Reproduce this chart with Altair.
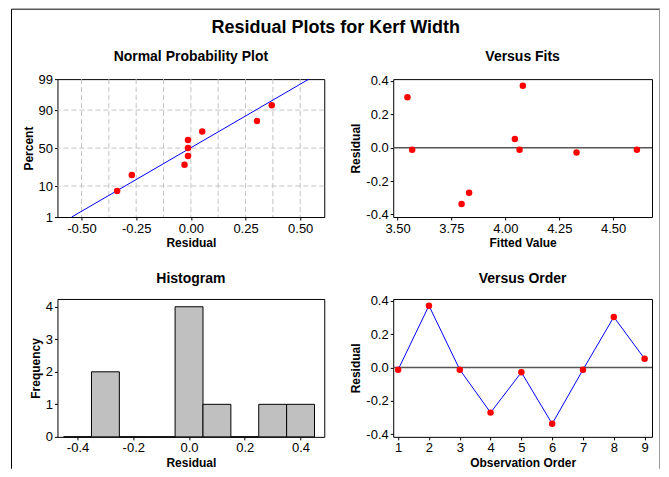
import altair as alt
import pandas as pd
from statistics import NormalDist

# ---- data ----
order = [1, 2, 3, 4, 5, 6, 7, 8, 9]
residuals = [-0.013, 0.370, -0.013, -0.270, -0.029, -0.337, -0.013, 0.302, 0.052]
fits = [3.568, 4.081, 4.066, 3.832, 4.330, 3.797, 4.610, 3.546, 4.044]

# normal probability plot (percent of each sorted residual)
npp_percent = [7.4, 18.1, 28.7, 39.4, 50.0, 60.6, 71.3, 81.9, 92.6]
fit_line_resid = [-0.545, 0.54]
fit_line_percent = [1, 99]
npp_tick_percent = [1, 10, 50, 90, 99]
npp_grid_percent = [10, 50, 90]
npp_grid_resid = [-0.5, -0.375, -0.25, -0.125, 0.0, 0.125, 0.25, 0.375, 0.5]

# histogram
hist_centers = [-0.4, -0.3, -0.2, -0.1, 0.0, 0.1, 0.2, 0.3, 0.4]
hist_counts = [0, 2, 0, 0, 4, 1, 0, 1, 1]
bin_width = 0.1

FONT = "Liberation Sans"
RED = "#ff0000"
BLUE = "#0000ff"

nd = NormalDist()
zmin, zmax = nd.inv_cdf(0.01), nd.inv_cdf(0.99)

def neg_fmt(fmt):
    return "(datum.value < 0 ? '-' : '') + format(abs(datum.value), '%s')" % fmt

def sub_title(text, off):
    return alt.TitleParams(text=text, font=FONT, fontSize=14, fontWeight="bold",
                           anchor="middle", frame="group", offset=off, color="black")

one = pd.DataFrame({"a": [0]})

# ---------- Panel 1: Normal probability plot ----------
npp_df = pd.DataFrame({"resid": sorted(residuals), "pct": npp_percent})
line_df = pd.DataFrame({"resid": fit_line_resid, "pct": fit_line_percent})
gx_df = pd.DataFrame({"g": npp_grid_resid})
gy_df = pd.DataFrame({"pct": npp_grid_percent})

xs1 = alt.Scale(domain=[-0.61, 0.61], nice=False, zero=False)
ys1 = alt.Scale(domain=[zmin, zmax], nice=False, zero=False)

x1_axis = alt.Axis(title="Residual", values=[-0.5, -0.25, 0, 0.25, 0.5],
                   labelExpr=neg_fmt(".2f"))
y1_axis = alt.Axis(title="Percent", values=[nd.inv_cdf(p / 100) for p in npp_tick_percent],
                   labelExpr="format(cumulativeNormal(datum.value) * 100, '.0f')")

grid_x = alt.Chart(gx_df).mark_rule(color="#c4c4c4", strokeDash=[5, 3], strokeWidth=1).encode(
    x=alt.X("g:Q", scale=xs1, axis=x1_axis))
grid_y = alt.Chart(gy_df).transform_calculate(z="quantileNormal(datum.pct / 100)").mark_rule(
    color="#c4c4c4", strokeDash=[5, 3], strokeWidth=1).encode(
    y=alt.Y("z:Q", scale=ys1, axis=y1_axis))
fit_line = alt.Chart(line_df).transform_calculate(z="quantileNormal(datum.pct / 100)").mark_line(
    color=BLUE, strokeWidth=1).encode(
    x=alt.X("resid:Q", scale=xs1, axis=x1_axis),
    y=alt.Y("z:Q", scale=ys1, axis=y1_axis))
npp_pts = alt.Chart(npp_df).transform_calculate(z="quantileNormal(datum.pct / 100)").mark_circle(
    color=RED, size=42, opacity=1).encode(
    x=alt.X("resid:Q", scale=xs1, axis=x1_axis),
    y=alt.Y("z:Q", scale=ys1, axis=y1_axis))
left_border1 = alt.Chart(one).mark_rule(color="black", strokeWidth=1).encode(
    x=alt.value(-46), y=alt.value(-70), y2=alt.value(140))
top_border = alt.Chart(one).mark_rule(color="black", strokeWidth=1).encode(
    x=alt.value(-46), x2=alt.value(603), y=alt.value(-70))

p1 = alt.layer(grid_x, grid_y, fit_line, npp_pts, left_border1, top_border).properties(
    width=267, height=138, title=sub_title("Normal Probability Plot", -55.5))

# ---------- Panel 2: Versus fits ----------
fit_df = pd.DataFrame({"fit": fits, "resid": residuals})
xs2 = alt.Scale(domain=[3.48, 4.68], nice=False, zero=False)
ys_res = alt.Scale(domain=[-0.415, 0.41], nice=False, zero=False)
y_res_axis = alt.Axis(title="Residual", values=[-0.4, -0.2, 0, 0.2, 0.4], labelExpr=neg_fmt(".1f"))
x2_axis = alt.Axis(title="Fitted Value", values=[3.5, 3.75, 4.0, 4.25, 4.5], format=".2f")

zero2 = alt.Chart(one).mark_rule(color="#555555", strokeWidth=1.5).encode(
    y=alt.Y("datum_zero:Q", scale=ys_res, axis=y_res_axis)).transform_calculate(datum_zero="0")
fit_pts = alt.Chart(fit_df).mark_circle(color=RED, size=42, opacity=1).encode(
    x=alt.X("fit:Q", scale=xs2, axis=x2_axis),
    y=alt.Y("resid:Q", scale=ys_res, axis=y_res_axis))
right_border1 = alt.Chart(one).mark_rule(color="#9a9a9a", strokeWidth=1).encode(
    x=alt.value(266.5), y=alt.value(-70), y2=alt.value(140))
p2 = alt.layer(zero2, fit_pts, right_border1).properties(
    width=259, height=138, title=sub_title("Versus Fits", -55.5))

# ---------- Panel 3: Histogram ----------
hist_df = pd.DataFrame({"center": hist_centers, "count": hist_counts})
hist_df["lo"] = hist_df["center"] - bin_width / 2
hist_df["hi"] = hist_df["center"] + bin_width / 2
xs3 = alt.Scale(domain=[-0.472, 0.485], nice=False, zero=False)
ys3 = alt.Scale(domain=[0, 4.24], nice=False, zero=False)
bars = alt.Chart(hist_df).mark_bar(color="#c0c0c0", stroke="black", strokeWidth=1).encode(
    x=alt.X("lo:Q", scale=xs3, axis=alt.Axis(title="Residual", values=[-0.4, -0.2, 0, 0.2, 0.4],
                                             labelExpr=neg_fmt(".1f"))),
    x2="hi:Q",
    y=alt.Y("count:Q", scale=ys3, axis=alt.Axis(title="Frequency", values=[0, 1, 2, 3, 4], format="d")),
    y2=alt.datum(0))
left_border2 = alt.Chart(one).mark_rule(color="black", strokeWidth=1).encode(
    x=alt.value(-46), y=alt.value(-82), y2=alt.value(170))
p3 = alt.layer(bars, left_border2).properties(
    width=267, height=138, title=sub_title("Histogram", -70))

# ---------- Panel 4: Versus order ----------
ord_df = pd.DataFrame({"order": order, "resid": residuals})
xs4 = alt.Scale(domain=[0.84, 9.24], nice=False, zero=False)
x4_axis = alt.Axis(title="Observation Order", values=order, format="d")
zero4 = alt.Chart(one).mark_rule(color="#555555", strokeWidth=1.5).encode(
    y=alt.Y("datum_zero:Q", scale=ys_res, axis=y_res_axis)).transform_calculate(datum_zero="0")
ord_line = alt.Chart(ord_df).mark_line(color=BLUE, strokeWidth=1).encode(
    x=alt.X("order:Q", scale=xs4, axis=x4_axis),
    y=alt.Y("resid:Q", scale=ys_res, axis=y_res_axis))
ord_pts = alt.Chart(ord_df).mark_circle(color=RED, size=42, opacity=1).encode(
    x=alt.X("order:Q", scale=xs4, axis=x4_axis),
    y=alt.Y("resid:Q", scale=ys_res, axis=y_res_axis))
right_border2 = alt.Chart(one).mark_rule(color="#9a9a9a", strokeWidth=1).encode(
    x=alt.value(266.5), y=alt.value(-82), y2=alt.value(170))
p4 = alt.layer(zero4, ord_line, ord_pts, right_border2).properties(
    width=259, height=138, title=sub_title("Versus Order", -70))

chart = alt.concat(
    p1, p2, p3, p4, columns=2,
    spacing=alt.RowColnumber(row=82, column=69),
    bounds="flush",
    title=alt.TitleParams(text="Residual Plots for Kerf Width", font=FONT, fontSize=18,
                          fontWeight="bold", anchor="middle", offset=-29, color="black"),
    padding={"left": 2.5, "top": 0, "right": 0, "bottom": 0},
    background="white",
).configure_view(stroke="black", strokeWidth=1).configure_axis(
    labelFont=FONT, labelFontSize=13, labelColor="black",
    titleFont=FONT, titleFontSize=12, titleFontWeight="bold", titleColor="black",
    tickColor="black", tickSize=3, domain=False, grid=False, labelPadding=2, titlePadding=3,
)

chart.save("out.html", embed_options={"renderer": "svg", "actions": False})
